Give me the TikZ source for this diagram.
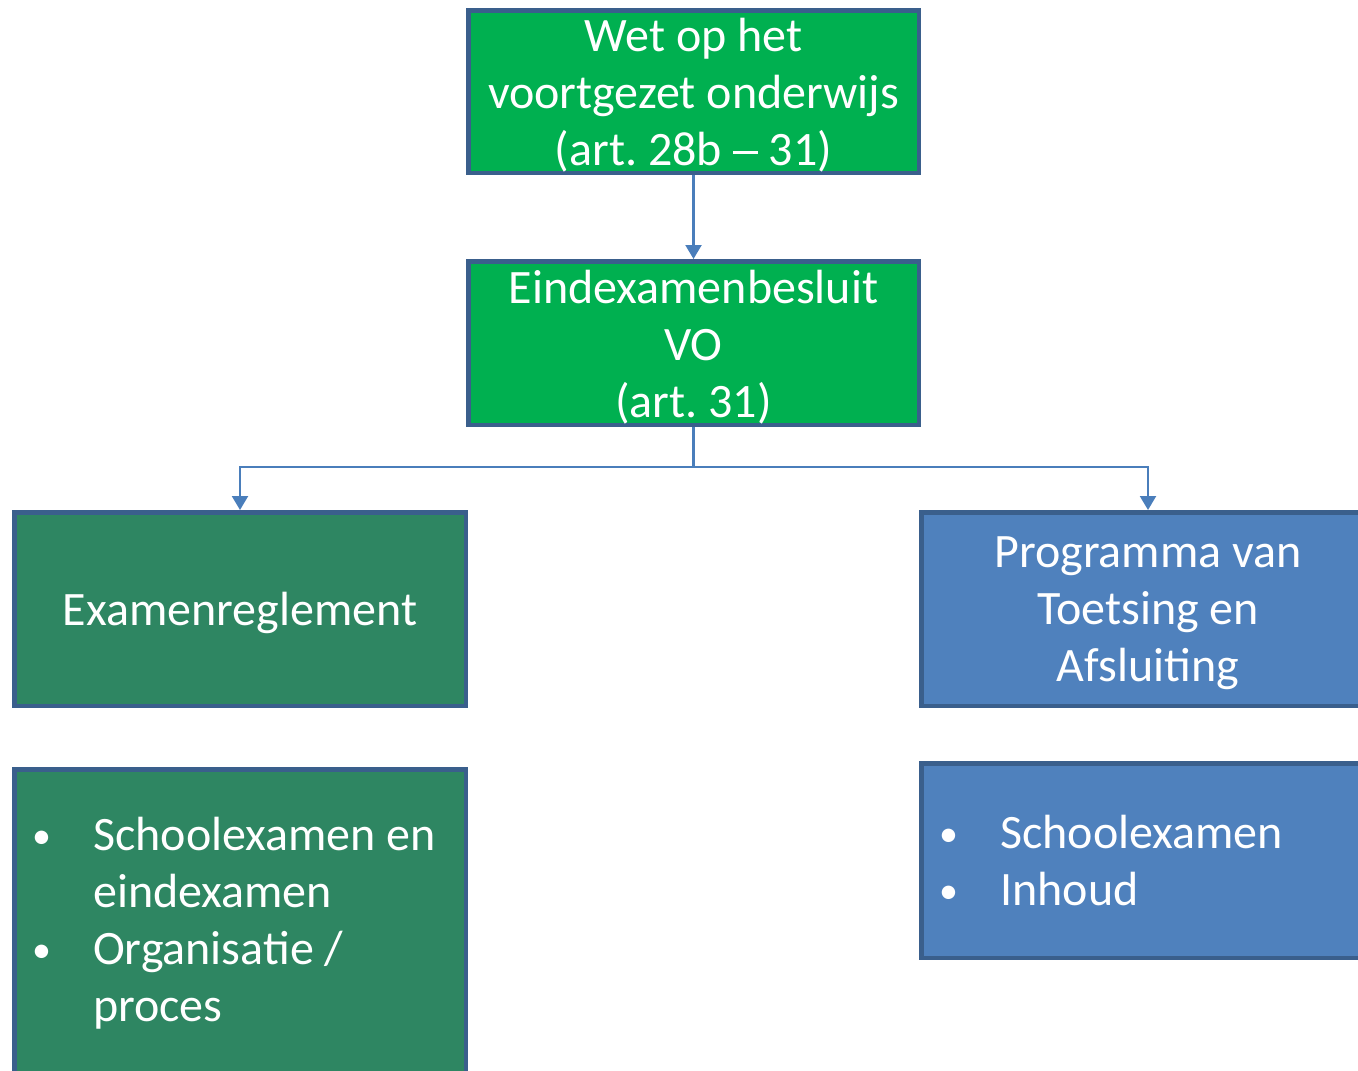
\documentclass[tikz,border=0pt]{standalone}
\usepackage{fontspec}
\setmainfont{Carlito}
\usetikzlibrary{arrows.meta}
\frenchspacing
\definecolor{edgeblue}{HTML}{3A5F8C}
\definecolor{lawgreen}{HTML}{00B050}
\definecolor{darkgreen}{HTML}{2E8662}
\definecolor{boxblue}{HTML}{4F81BD}
\definecolor{arrowblue}{HTML}{4A7EBB}
\tikzset{
  box/.style={draw=edgeblue, line width=4.5pt, rectangle, inner sep=0pt},
  boxtext/.style={text=white, inner sep=0pt, font=\fontsize{48}{57}\selectfont, align=center},
  conn/.style={draw=arrowblue, line width=2.2pt, -{Triangle[width=16pt,length=14pt]}},
  listtxt/.style={text=white, inner sep=0pt, anchor=base west, font=\fontsize{48}{57}\selectfont}
}
\newcommand{\blt}{\makebox[62pt][l]{\hspace*{1pt}\raisebox{2pt}{\fontsize{38}{38}\selectfont •}}}
\newcommand{\longdash}{\rule[12pt]{25pt}{2.8pt}}
\begin{document}
\begin{tikzpicture}[x=1pt,y=-1pt]
\useasboundingbox (0,0) rectangle (1358,1071);
\clip (0,0) rectangle (1358,1071);
\node[box, fill=lawgreen, minimum width=450.5pt, minimum height=162.5pt] (wet) at (693.5,91.5) {};
\node[boxtext] (wet-t) at ([yshift=-4pt]wet.center) {Wet op het\\voortgezet onderwijs\\(art. 28b \longdash{} 31)};
\node[box, fill=lawgreen, minimum width=450.5pt, minimum height=163.5pt] (besluit) at (693.5,343) {};
\node[boxtext] (besluit-t) at ([yshift=-4pt]besluit.center) {Eindexamenbesluit\\VO\\(art. 31)};
\node[box, fill=darkgreen, minimum width=451.5pt, minimum height=193.5pt] (regl) at (240,609) {};
\node[boxtext] (regl-t) at ([yshift=-4pt]regl.center) {Examenreglement};
\node[box, fill=boxblue, minimum width=453.5pt, minimum height=193.5pt] (pta) at (1148,609) {};
\node[boxtext] (pta-t) at ([yshift=-4pt]pta.center) {Programma van\\Toetsing en\\Afsluiting};
\node[box, fill=darkgreen, minimum width=451.5pt, minimum height=325pt] (reglbox) at (240,932) {};
\node[box, fill=boxblue, minimum width=453.5pt, minimum height=194.5pt] (ptabox) at (1148,860.5) {};
\node[listtxt] (regllist) at (31,850) {\begin{tabular}[t]{@{}l@{}}
  \blt Schoolexamen en\\ \hspace*{62pt}eindexamen\\ \blt Organisatie /\\ \hspace*{62pt}proces\end{tabular}};
\node[listtxt] (ptalist) at (938,848) {\begin{tabular}[t]{@{}l@{}}
  \blt Schoolexamen\\ \blt Inhoud\end{tabular}};
\draw[conn] (wet.south) -- (besluit.north);
\coordinate (split) at (693.5,467);
\draw[conn] (besluit.south) -- (split) -| (regl.north);
\draw[conn] (split) -| (pta.north);
\end{tikzpicture}
\end{document}
